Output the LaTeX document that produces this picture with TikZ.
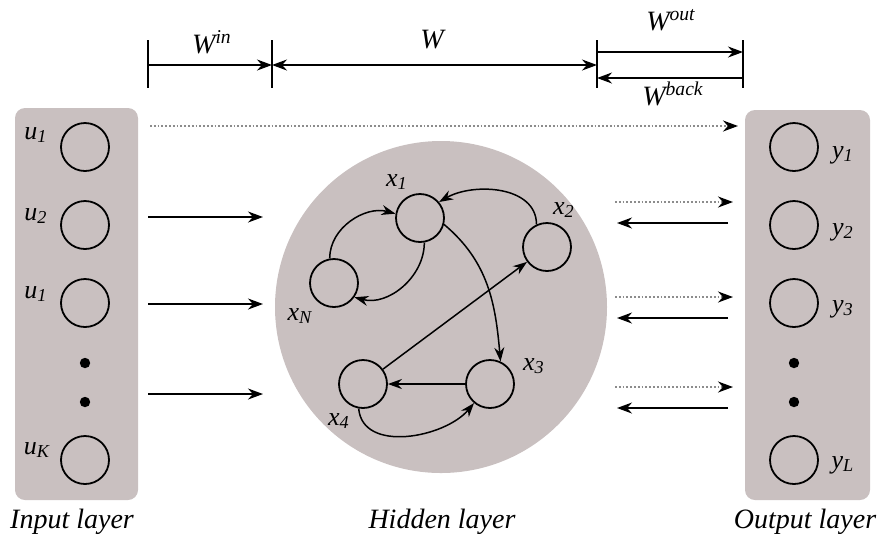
\documentclass[tikz,border=0pt]{standalone}
\usepackage{fontspec}
\setmainfont{Liberation Serif}
\usetikzlibrary{arrows.meta,calc}
\definecolor{layergray}{RGB}{201,192,192}
\newcommand{\lbl}[2]{#1\textsubscript{#2}}

\begin{document}
\begin{tikzpicture}[x=0.5pt,y=-0.5pt,
  every node/.style={font=\itshape},
  layerbox/.style={fill=layergray,rounded corners=5pt},
  neuron/.style={circle,draw=black,line width=0.9pt,minimum size=24pt,inner sep=0pt},
  unitlabel/.style={font=\itshape\fontsize{13}{15}\selectfont,inner sep=0pt},
  layername/.style={font=\itshape\fontsize{14}{16}\selectfont},
  wlabel/.style={font=\itshape\fontsize{14}{16}\selectfont,inner sep=0pt},
  fwdarrow/.style={-{Stealth[length=7.5pt,width=5.5pt]},line width=0.8pt},
  botharrow/.style={{Stealth[length=7.5pt,width=5.5pt]}-{Stealth[length=7.5pt,width=5.5pt]},line width=0.8pt},
  dotarrow/.style={-{Stealth[length=7.5pt,width=5.5pt,color=black]},densely dotted,
    line width=0.9pt,draw=black!45},
  resarrow/.style={-{Stealth[length=7pt,width=5pt]},line width=0.75pt},
  dimbar/.style={line width=1pt},
]
\useasboundingbox (0,0) rectangle (883,538);

% ---------- Layer backgrounds ----------
\fill[layerbox] (15,108) rectangle (138,500);
\fill[layerbox] (745,110) rectangle (870,500);
\node[circle,fill=layergray,minimum size=166pt,inner sep=0pt] (HID) at (441,307) {};

% ---------- Input layer ----------
\node[neuron] (U1) at (85,147) {};
\node[neuron] (U2) at (85,225) {};
\node[neuron] (U3) at (85,303) {};
\node[neuron] (UK) at (85,460) {};
\fill (85,363) circle (2.6pt) (85,402) circle (2.6pt);
\node[unitlabel] (LU1) at (36,135) {\lbl{u}{1}};
\node[unitlabel] (LU2) at (36,216) {\lbl{u}{2}};
\node[unitlabel] (LU3) at (36,294) {\lbl{u}{1}};
\node[unitlabel] (LUK) at (37,450) {\lbl{u}{K}};

% ---------- Output layer ----------
\node[neuron] (Y1) at (794,147) {};
\node[neuron] (Y2) at (794,225) {};
\node[neuron] (Y3) at (794,303) {};
\node[neuron] (YL) at (794,460) {};
\fill (794,363) circle (2.6pt) (794,402) circle (2.6pt);
\node[unitlabel] (LY1) at (843,155) {\lbl{y}{1}};
\node[unitlabel] (LY2) at (843,232) {\lbl{y}{2}};
\node[unitlabel] (LY3) at (843,309) {\lbl{y}{3}};
\node[unitlabel] (LYL) at (843,465) {\lbl{y}{L}};

% ---------- Hidden layer (reservoir) ----------
\node[neuron] (X1) at (420,218) {};
\node[neuron] (X2) at (547,247) {};
\node[neuron] (XN) at (334,283) {};
\node[neuron] (X3) at (490,384) {};
\node[neuron] (X4) at (363,384) {};
\node[unitlabel] at (397,182) {\lbl{x}{1}};
\node[unitlabel] at (564,210) {\lbl{x}{2}};
\node[unitlabel] at (300,316) {\lbl{x}{N}};
\node[unitlabel] at (534,366) {\lbl{x}{3}};
\node[unitlabel] at (339,421) {\lbl{x}{4}};

\draw[resarrow] (XN.100) to[out=90,in=165] (X1.170);
\draw[resarrow] (X1.-80) to[out=-90,in=-15] (XN.-35);
\draw[resarrow] (X2.115) to[out=90,in=30] (X1.40);
\draw[resarrow] (X1.-15) to[out=-40,in=95] (X3.65);
\draw[resarrow] (X4) -- (X2);
\draw[resarrow] (X3) -- (X4);
\draw[resarrow] (X4.-100) to[out=-85,in=-130] (X3.-130);

% ---------- Input and output connections ----------
\coordinate (IA1) at (148,217); \coordinate (IB1) at (263,217);
\coordinate (IA2) at (148,304); \coordinate (IB2) at (263,304);
\coordinate (IA3) at (148,394); \coordinate (IB3) at (263,394);
\draw[fwdarrow] (IA1) -- (IB1);
\draw[fwdarrow] (IA2) -- (IB2);
\draw[fwdarrow] (IA3) -- (IB3);

\coordinate (DA0) at (150,126); \coordinate (DB0) at (738,126);
\draw[dotarrow] (DA0) -- (DB0);

\coordinate (OA1) at (615,202); \coordinate (OB1) at (733,202);
\coordinate (OA2) at (615,297); \coordinate (OB2) at (733,297);
\coordinate (OA3) at (615,387); \coordinate (OB3) at (733,387);
\draw[dotarrow] (OA1) -- (OB1);
\draw[dotarrow] (OA2) -- (OB2);
\draw[dotarrow] (OA3) -- (OB3);

\coordinate (BA1) at (728,223); \coordinate (BB1) at (617,223);
\coordinate (BA2) at (728,318); \coordinate (BB2) at (617,318);
\coordinate (BA3) at (728,408); \coordinate (BB3) at (617,408);
\draw[fwdarrow] (BA1) -- (BB1);
\draw[fwdarrow] (BA2) -- (BB2);
\draw[fwdarrow] (BA3) -- (BB3);

% ---------- Weight matrices (dimension lines) ----------
\coordinate (T1) at (148,40); \coordinate (T2) at (272,40);
\coordinate (T3) at (597,40); \coordinate (T4) at (743,40);
\foreach \t in {T1,T2,T3,T4} \draw[dimbar] (\t) -- ++(0,48);

\draw[fwdarrow] ($(T1)+(0,25)$) -- ($(T2)+(0,25)$);
\draw[botharrow] ($(T2)+(0,25)$) -- ($(T3)+(0,25)$);
\draw[fwdarrow] ($(T3)+(0,12)$) -- ($(T4)+(0,12)$);
\draw[fwdarrow] ($(T4)+(0,38)$) -- ($(T3)+(0,38)$);

\node[wlabel] (WIN) at (212,42) {W\textsuperscript{in}};
\node[wlabel] (W) at (432,40) {W};
\node[wlabel] (WOUT) at (671,20) {W\textsuperscript{out}};
\node[wlabel] (WBACK) at (673,94) {W\textsuperscript{back}};

% ---------- Layer names ----------
\node[layername] at (72,522) {Input layer};
\node[layername] at (442,522) {Hidden layer};
\node[layername] at (805,522) {Output layer};

\end{tikzpicture}
\end{document}
